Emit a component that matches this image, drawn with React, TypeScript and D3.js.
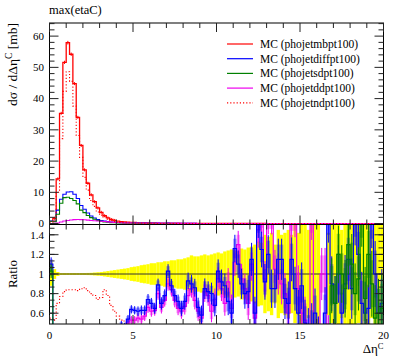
import React from "react";
import * as d3 from "d3";

const N_BINS = 100;
const BIN_WIDTH = 0.2;

const titleText = "max(etaC)";
const legendLabels = [
  "MC (phojetmbpt100)",
  "MC (phojetdiffpt100)",
  "MC (phojetsdpt100)",
  "MC (phojetddpt100)",
  "MC (phojetndpt100)",
];

// main-panel values (mb per unit Δη), bins of 0.2 from 0 to 20
const mbpt100 = [
  0.7, 1.7, 14.3, 35.3, 51.6, 57.9, 54.2, 44.8, 34.0, 25.0,
  17.2, 12.9, 9.2, 7.0, 5.0, 3.6, 2.5, 1.8, 1.3, 1.0,
  0.8, 0.62, 0.52, 0.45, 0.4, 0.36, 0.32, 0.29, 0.26, 0.24,
  0.21, 0.19, 0.17, 0.16, 0.14, 0.13, 0.12, 0.11, 0.1, 0.09,
  0.085, 0.08, 0.072, 0.066, 0.06, 0.056, 0.05, 0.047, 0.044, 0.04,
  0.037, 0.034, 0.032, 0.03, 0.027, 0.025, 0.023, 0.022, 0.02, 0.019,
  0.017, 0.016, 0.015, 0.014, 0.013, 0.012, 0.011, 0.01, 0.0095, 0.009,
  0.008, 0.0075, 0.007, 0.0065, 0.006, 0.0055, 0.005, 0.0048, 0.0045, 0.004,
  0.0038, 0.0035, 0.0033, 0.003, 0.0028, 0.0026, 0.0025, 0.0023, 0.0021, 0.002,
  0.0019, 0.0018, 0.0016, 0.0015, 0.0014, 0.0013, 0.0012, 0.0011, 0.001, 0.001,
];
const diffpt100 = [
  0.78, 0.75, 4.3, 7.8, 9.4, 10.1, 10.2, 9.4, 8.0, 5.8,
  4.6, 3.4, 2.4, 1.8, 1.3, 1.0, 0.8, 0.62, 0.5, 0.42,
  0.36, 0.3, 0.24, 0.24, 0.26, 0.23, 0.2, 0.18, 0.16, 0.18,
  0.15, 0.12, 0.15, 0.11, 0.11, 0.13, 0.105, 0.086, 0.072, 0.059,
  0.061, 0.074, 0.065, 0.057, 0.04, 0.032, 0.043, 0.039, 0.035, 0.027,
  0.038, 0.031, 0.028, 0.022, 0.016, 0.032, 0.025, 0.02, 0.016, 0.016,
  0.02, 0.01, 0.023, 0.018, 0.012, 0.014, 0.009, 0.0085, 0.011, 0.01,
  0.006, 0.005, 0.008, 0.0055, 0.0036, 0.0048, 0.0025, 0.0019, 0.002, 0.0024,
  0.0011, 0.0007, 0.002, 0.0048, 0.0025, 0.0018, 0.0025, 0.0014, 0.0019, 0.0023,
  0.0016, 0.0029, 0.0019, 0.0011, 0.0008, 0.0008, 0.0019, 0.0011, 0.0006, 0.0007,
];
const sdpt100 = [
  0.74, 0.6, 3.0, 6.5, 8.3, 8.4, 8.0, 7.4, 6.3, 4.3,
  3.5, 2.6, 1.9, 1.4, 1.0, 0.75, 0.55, 0.4, 0.3, 0.25,
  0.2, 0.17, 0.14, 0.12, 0.1, 0.09, 0.08, 0.07, 0.06, 0.055,
  0.05, 0.045, 0.04, 0.035, 0.03, 0.028, 0.025, 0.022, 0.02, 0.018,
  0.016, 0.015, 0.014, 0.012, 0.011, 0.01, 0.009, 0.0085, 0.008, 0.007,
  0.0065, 0.006, 0.0055, 0.005, 0.0045, 0.004, 0.0038, 0.0035, 0.0032, 0.003,
  0.0028, 0.0026, 0.0024, 0.0022, 0.002, 0.0019, 0.0017, 0.0016, 0.0015, 0.0014,
  0.0012, 0.0011, 0.001, 0.001, 0.0009, 0.0008, 0.0008, 0.0007, 0.0007, 0.0006,
  0.0006, 0.0005, 0.0005, 0.0005, 0.0025, 0.0018, 0.0025, 0.0023, 0.0018, 0.0026,
  0.0021, 0.0014, 0.0018, 0.0024, 0.0011, 0.0016, 0.0011, 0.0006, 0.0006, 0.0007,
];
const ddpt100 = [
  0.02, 0.05, 0.2, 0.5, 0.8, 1.0, 1.15, 1.25, 1.3, 1.25,
  1.2, 1.1, 1.0, 0.9, 0.8, 0.72, 0.65, 0.54, 0.45, 0.38,
  0.32, 0.27, 0.22, 0.22, 0.21, 0.19, 0.18, 0.16, 0.15, 0.16,
  0.13, 0.12, 0.14, 0.11, 0.1, 0.12, 0.1, 0.08, 0.065, 0.056,
  0.057, 0.062, 0.061, 0.048, 0.037, 0.031, 0.041, 0.037, 0.027, 0.03,
  0.035, 0.029, 0.022, 0.028, 0.018, 0.028, 0.03, 0.021, 0.017, 0.013,
  0.019, 0.009, 0.022, 0.022, 0.013, 0.021, 0.018, 0.011, 0.0095, 0.0081,
  0.0064, 0.0045, 0.011, 0.01, 0.0051, 0.0033, 0.0027, 0.0014, 0.0072, 0.0012,
  0.0011, 0.0035, 0.0011, 0.0006, 0.0006, 0.0005, 0.0005, 0.0005, 0.0004, 0.0004,
  0.0004, 0.0004, 0.0003, 0.0003, 0.0003, 0.0003, 0.0002, 0.0002, 0.0002, 0.0002,
];
const ndpt100 = [
  0.4, 0.9, 10.0, 27.2, 42.3, 48.6, 45.5, 37.6, 28.2, 21.2,
  14.8, 10.7, 7.4, 5.5, 3.7, 2.7, 2.1, 1.4, 0.88, 0.62,
  0.46, 0.33, 0.27, 0.2, 0.16, 0.13, 0.11, 0.09, 0.075, 0.06,
  0.05, 0.042, 0.035, 0.03, 0.025, 0.021, 0.018, 0.015, 0.013, 0.011,
  0.01, 0.009, 0.008, 0.007, 0.006, 0.0055, 0.005, 0.0045, 0.004, 0.0035,
  0.003, 0.0028, 0.0025, 0.0022, 0.002, 0.0018, 0.0016, 0.0015, 0.0013, 0.0012,
  0.0011, 0.001, 0.0009, 0.0008, 0.0007, 0.0007, 0.0006, 0.0006, 0.0005, 0.0005,
  0.0004, 0.0004, 0.0004, 0.0003, 0.0003, 0.0003, 0.0003, 0.0002, 0.0002, 0.0002,
  0.0002, 0.0002, 0.0002, 0.0001, 0.0001, 0.0001, 0.0001, 0.0001, 0.0001, 0.0001,
  0, 0, 0, 0, 0, 0, 0, 0, 0, 0,
];

// ratio-panel values (MC / phojetmbpt100)
const ratioDiff = [
  1.1, 0.44, 0.3, 0.22, 0.18, 0.17, 0.19, 0.21, 0.24, 0.23,
  0.27, 0.26, 0.26, 0.26, 0.26, 0.28, 0.32, 0.34, 0.38, 0.42,
  0.45, 0.48, 0.46, 0.54, 0.64, 0.63, 0.62, 0.63, 0.63, 0.74,
  0.7, 0.65, 0.89, 0.7, 0.78, 1.03, 0.88, 0.78, 0.72, 0.65,
  0.72, 0.93, 0.9, 0.86, 0.66, 0.58, 0.85, 0.82, 0.8, 0.68,
  1.03, 0.92, 0.88, 0.72, 0.6, 1.26, 1.1, 0.9, 0.8, 0.82,
  1.15, 0.6, 1.55, 1.25, 0.92, 1.2, 0.85, 0.85, 1.15, 1.15,
  0.75, 0.7, 1.15, 0.85, 0.6, 0.88, 0.5, 0.4, 0.45, 0.6,
  0.3, 0.2, 0.6, 1.6, 0.9, 0.7, 1.0, 0.6, 0.9, 1.15,
  0.85, 1.6, 1.2, 0.7, 0.6, 0.65, 1.6, 1.0, 0.6, 0.7,
];
const ratioSd = [
  1.03, 0.35, 0.21, 0.18, 0.16, 0.145, 0.148, 0.165, 0.185, 0.17,
  0.2, 0.2, 0.21, 0.2, 0.2, 0.21, 0.22, 0.22, 0.23, 0.25,
  0.25, 0.27, 0.27, 0.27, 0.25, 0.25, 0.25, 0.24, 0.23, 0.23,
  0.24, 0.24, 0.24, 0.22, 0.21, 0.22, 0.21, 0.2, 0.2, 0.2,
  0.19, 0.19, 0.19, 0.18, 0.18, 0.18, 0.18, 0.18, 0.18, 0.18,
  0.18, 0.18, 0.17, 0.17, 0.17, 0.16, 0.17, 0.16, 0.16, 0.16,
  0.16, 0.16, 0.16, 0.16, 0.15, 0.16, 0.15, 0.16, 0.16, 0.16,
  0.15, 0.15, 0.14, 0.15, 0.15, 0.15, 0.16, 0.15, 0.16, 0.15,
  0.16, 0.15, 0.15, 0.17, 0.88, 0.7, 1.2, 1.0, 0.85, 1.3,
  1.1, 0.8, 0.95, 1.6, 0.75, 1.2, 0.9, 0.55, 0.6, 0.65,
];
const ratioDd = [
  0.03, 0.03, 0.014, 0.014, 0.016, 0.017, 0.021, 0.028, 0.038, 0.05,
  0.07, 0.085, 0.11, 0.13, 0.16, 0.2, 0.26, 0.3, 0.35, 0.38,
  0.4, 0.43, 0.42, 0.5, 0.53, 0.53, 0.55, 0.54, 0.57, 0.66,
  0.62, 0.63, 0.8, 0.66, 0.73, 0.9, 0.84, 0.73, 0.65, 0.62,
  0.67, 0.78, 0.85, 0.73, 0.62, 0.55, 0.82, 0.78, 0.62, 0.74,
  0.95, 0.85, 0.7, 0.92, 0.65, 1.12, 1.3, 0.95, 0.85, 0.7,
  1.1, 0.55, 1.45, 1.6, 0.95, 1.6, 1.6, 1.05, 1.0, 0.9,
  0.8, 0.6, 1.6, 1.6, 0.85, 0.6, 0.53, 0.3, 1.6, 0.3,
  0.3, 1.0, 1.0, 0.3, 0.2, 0.2, 0.2, 0.2, 0.2, 0.2,
  0.2, 0.2, 0.2, 0.2, 0.2, 0.2, 0.2, 0.2, 0.2, 0.2,
];
const ratioNd = [
  0.55, 0.53, 0.7, 0.77, 0.82, 0.84, 0.84, 0.84, 0.83, 0.85,
  0.86, 0.83, 0.8, 0.78, 0.74, 0.76, 0.84, 0.78, 0.68, 0.62,
  0.57, 0.53, 0.52, 0.45, 0.4, 0.36, 0.34, 0.31, 0.29, 0.25,
  0.24, 0.22, 0.21, 0.19, 0.18, 0.16, 0.15, 0.14, 0.13, 0.12,
  0.12, 0.11, 0.11, 0.11, 0.1, 0.1, 0.1, 0.1, 0.09, 0.09,
  0.08, 0.08, 0.08, 0.07, 0.07, 0.07, 0.07, 0.07, 0.07, 0.06,
  0.06, 0.06, 0.06, 0.06, 0.05, 0.06, 0.05, 0.06, 0.05, 0.06,
  0.05, 0.05, 0.06, 0.05, 0.05, 0.05, 0.06, 0.04, 0.04, 0.05,
  0.05, 0.05, 0.06, 0.03, 0.04, 0.04, 0.03, 0.04, 0.03, 0.03,
  0, 0, 0, 0, 0, 0, 0, 0, 0, 0,
];
// relative stat. uncertainty of the reference (yellow band half-width)
const refRelErr = [
  0.12, 0.05, 0.02, 0.01, 0.01, 0.01, 0.01, 0.01, 0.01, 0.01,
  0.01, 0.011, 0.012, 0.015, 0.018, 0.02, 0.025, 0.03, 0.035, 0.04,
  0.045, 0.05, 0.055, 0.06, 0.07, 0.075, 0.08, 0.09, 0.095, 0.1,
  0.11, 0.11, 0.12, 0.12, 0.13, 0.13, 0.14, 0.14, 0.15, 0.15,
  0.16, 0.17, 0.19, 0.18, 0.18, 0.19, 0.2, 0.19, 0.2, 0.21,
  0.22, 0.21, 0.23, 0.24, 0.25, 0.24, 0.23, 0.26, 0.25, 0.27,
  0.28, 0.3, 0.33, 0.32, 0.4, 0.38, 0.42, 0.3, 0.45, 0.4,
  0.42, 0.45, 0.4, 0.5, 0.42, 0.55, 0.6, 0.45, 0.7, 0.6,
  0.7, 0, 0, 0.42, 0.5, 0.6, 0.7, 0.45, 0.7, 0.55,
  0.6, 0.7, 0.5, 0.55, 0.7, 0.7, 0.45, 0.7, 0.6, 0.7,
];
// MC ratio uncertainties (error bars/boxes in the ratio panel)
const mcRatioErr = [
  0.05, 0.03, 0.01, 0.01, 0.01, 0.01, 0.01, 0.01, 0.01, 0.01,
  0.01, 0.01, 0.01, 0.01, 0.02, 0.02, 0.02, 0.02, 0.03, 0.03,
  0.03, 0.03, 0.03, 0.03, 0.03, 0.03, 0.035, 0.035, 0.035, 0.04,
  0.04, 0.04, 0.045, 0.045, 0.045, 0.05, 0.05, 0.05, 0.05, 0.055,
  0.06, 0.06, 0.065, 0.065, 0.07, 0.07, 0.075, 0.075, 0.08, 0.08,
  0.085, 0.09, 0.09, 0.1, 0.1, 0.1, 0.1, 0.11, 0.11, 0.12,
  0.12, 0.12, 0.13, 0.13, 0.13, 0.14, 0.14, 0.14, 0.15, 0.15,
  0.15, 0.16, 0.16, 0.16, 0.17, 0.17, 0.17, 0.18, 0.18, 0.18,
  0.19, 0.19, 0.19, 0.2, 0.2, 0.2, 0.21, 0.21, 0.21, 0.22,
  0.22, 0.22, 0.23, 0.23, 0.23, 0.24, 0.24, 0.24, 0.25, 0.25,
];

const xMajorTicks = [0, 5, 10, 15, 20];
const xMinorTicks = [1, 2, 3, 4, 6, 7, 8, 9, 11, 12, 13, 14, 16, 17, 18, 19];
const mainYMajor = [0, 10, 20, 30, 40, 50, 60];
const ratioYMajor = [0.6, 0.8, 1.0, 1.2, 1.4];
const ratioYLabels = ["0.6", "0.8", "1", "1.2", "1.4"];

const FONT = "Liberation Serif, DejaVu Serif, serif";

export default function App() {
  const L = 49.5, R = 383.5, T = 23, MB = 224.5, RB = 324;
  const x = d3.scaleLinear().domain([0, 20]).range([L, R]);
  const yMain = d3.scaleLinear().domain([-0.3, 64.2]).range([MB, T]);
  const yRat = d3.scaleLinear().domain([0.49, 1.505]).range([RB, MB]);

  const edges = d3.range(N_BINS + 1).map((i) => i * BIN_WIDTH);
  const stepPts = (vals: number[]): [number, number][] => {
    const pts: [number, number][] = [];
    vals.forEach((v, i) => {
      pts.push([edges[i], v], [edges[i + 1], v]);
    });
    return pts;
  };
  const mainLine = d3.line<[number, number]>().x((d) => x(d[0])).y((d) => yMain(d[1]));
  const ratLine = d3.line<[number, number]>().x((d) => x(d[0])).y((d) => yRat(Math.max(0.3, Math.min(1.7, d[1]))));

  const series = [
    { main: mbpt100, color: "#ff0000", dash: undefined as string | undefined, ratio: null as number[] | null },
    { main: diffpt100, color: "#0000ff", dash: undefined, ratio: ratioDiff },
    { main: sdpt100, color: "#008000", dash: undefined, ratio: ratioSd },
    { main: ddpt100, color: "#ee00ee", dash: undefined, ratio: ratioDd },
    { main: ndpt100, color: "#ff0000", dash: "1.2,2", ratio: ratioNd },
  ];

  const mainYMinor = d3.range(0, 64.1, 2).filter((v) => v % 10 !== 0);
  const ratioMinor = d3.range(0, 16).map((k) => 0.5 + 0.2 / 3 * (k + 0.5)).filter((v) => v > 0.49 && v < 1.5);

  const tickMaj = 9, tickMin = 5;
  const tickColor = "#222";

  const frameTicks = (yTop: number, yBot: number, yScale: (v: number) => number, yMaj: number[], yMin: number[]) => (
    <g stroke={tickColor} strokeWidth={1}>
      {xMajorTicks.map((t) => (
        <g key={"xM" + t}>
          <line x1={x(t)} x2={x(t)} y1={yBot} y2={yBot - tickMaj} />
          <line x1={x(t)} x2={x(t)} y1={yTop} y2={yTop + tickMaj} />
        </g>
      ))}
      {xMinorTicks.map((t) => (
        <g key={"xm" + t}>
          <line x1={x(t)} x2={x(t)} y1={yBot} y2={yBot - tickMin} />
          <line x1={x(t)} x2={x(t)} y1={yTop} y2={yTop + tickMin} />
        </g>
      ))}
      {yMaj.map((t) => (
        <g key={"yM" + t}>
          <line x1={L} x2={L + tickMaj} y1={yScale(t)} y2={yScale(t)} />
          <line x1={R} x2={R - tickMaj} y1={yScale(t)} y2={yScale(t)} />
        </g>
      ))}
      {yMin.map((t) => (
        <g key={"ym" + t}>
          <line x1={L} x2={L + tickMin} y1={yScale(t)} y2={yScale(t)} />
          <line x1={R} x2={R - tickMin} y1={yScale(t)} y2={yScale(t)} />
        </g>
      ))}
    </g>
  );

  return (
    <svg width={397} height={358} style={{ position: "absolute", left: 0, top: 0, background: "#fff", fontFamily: FONT }}>
      <defs>
        <clipPath id="clipMain"><rect x={L} y={T} width={R - L} height={MB - T} /></clipPath>
        <clipPath id="clipRatio"><rect x={L} y={MB} width={R - L} height={RB - MB} /></clipPath>
      </defs>
      <rect x={0} y={0} width={397} height={358} fill="#fff" />

      {/* title */}
      <text x={49} y={13.5} fontSize={12.5} fill="#000">{titleText}</text>

      {/* main panel curves */}
      <g clipPath="url(#clipMain)">
        {series.map((s, k) => (
          <path key={k} d={mainLine(stepPts(s.main)) || ""} fill="none" stroke={s.color}
            strokeWidth={k === 0 ? 1.3 : 1.1} strokeDasharray={s.dash} />
        ))}
        {mbpt100.map((v, i) => {
          if (v < 1) return null;
          const cx = x(edges[i] + BIN_WIDTH / 2);
          const e = Math.max(1.5, yMain(0) - yMain(v * refRelErr[i]));
          return <line key={"re" + i} x1={cx} x2={cx} y1={yMain(v) - e} y2={yMain(v) + e} stroke="#ff0000" strokeWidth={1} />;
        })}
      </g>

      {/* ratio panel */}
      <g clipPath="url(#clipRatio)">
        {refRelErr.map((e, i) => (
          e > 0 ? <rect key={"yb" + i} x={x(edges[i])} width={x(edges[i + 1]) - x(edges[i])}
            y={yRat(1 + e)} height={yRat(1 - e) - yRat(1 + e)} fill="#ffff00" /> : null
        ))}
        <line x1={L} x2={R} y1={yRat(1)} y2={yRat(1)} stroke="#333" strokeWidth={1} />
        <path d={ratLine(stepPts(ratioNd)) || ""} fill="none" stroke="#ff0000" strokeWidth={1.1} strokeDasharray="1.2,2" />
        {[series[3], series[1], series[2]].map((s, k) => (
          <g key={"rs" + k}>
            {s.ratio!.map((r, i) => {
              const err = mcRatioErr[i];
              if (r + err < 0.49 || r - err > 1.51) return null;
              const cx = x(edges[i] + BIN_WIDTH / 2);
              return (
                <g key={i}>
                  <rect x={x(edges[i])} width={x(edges[i + 1]) - x(edges[i])} y={yRat(r + err)}
                    height={yRat(r - err) - yRat(r + err)} fill={s.color} fillOpacity={0.35} />
                  <line x1={cx} x2={cx} y1={yRat(r + err * 1.4)} y2={yRat(r - err * 1.4)} stroke={s.color} strokeWidth={1} />
                </g>
              );
            })}
            <path d={ratLine(stepPts(s.ratio!)) || ""} fill="none" stroke={s.color} strokeWidth={1.2} />
          </g>
        ))}
      </g>

      {/* frames */}
      <rect x={L} y={T} width={R - L} height={MB - T} fill="none" stroke="#000" strokeWidth={1} />
      <rect x={L} y={MB} width={R - L} height={RB - MB} fill="none" stroke="#000" strokeWidth={1} />
      {frameTicks(T, MB, yMain, mainYMajor, mainYMinor)}
      {frameTicks(MB, RB, yRat, ratioYMajor, ratioMinor)}

      {/* tick labels */}
      <g fontSize={11} fill="#000">
        {mainYMajor.map((t) => (
          <text key={"ml" + t} x={44} y={yMain(t) + 3.8} textAnchor="end">{t}</text>
        ))}
        {ratioYMajor.map((t, i) => (
          <text key={"rl" + t} x={44} y={yRat(t) + 3.8} textAnchor="end">{ratioYLabels[i]}</text>
        ))}
        {xMajorTicks.map((t) => (
          <text key={"xl" + t} x={x(t)} y={338.5} textAnchor="middle">{t}</text>
        ))}
      </g>

      {/* axis labels */}
      <text transform={`translate(17,${T}) rotate(-90)`} textAnchor="end" fontSize={13.5} fill="#000">
        dσ / dΔη<tspan dy={-5} fontSize={9.5}>C</tspan><tspan dy={5}> [mb]</tspan>
      </text>
      <text transform={`translate(17,${yRat(1)}) rotate(-90)`} textAnchor="middle" fontSize={13} fill="#000">Ratio</text>
      <text x={R} y={353} textAnchor="end" fontSize={13} fill="#000">
        Δη<tspan dy={-4} fontSize={8.5}>C</tspan>
      </text>

      {/* legend */}
      {series.map((s, k) => {
        const yy = 44 + k * 14.7;
        return (
          <g key={"lg" + k}>
            <line x1={227} x2={253} y1={yy} y2={yy} stroke={s.color} strokeWidth={1.2} strokeDasharray={s.dash} />
            <text x={260} y={yy + 4} fontSize={11.5} fill="#000">{legendLabels[k]}</text>
          </g>
        );
      })}
    </svg>
  );
}
